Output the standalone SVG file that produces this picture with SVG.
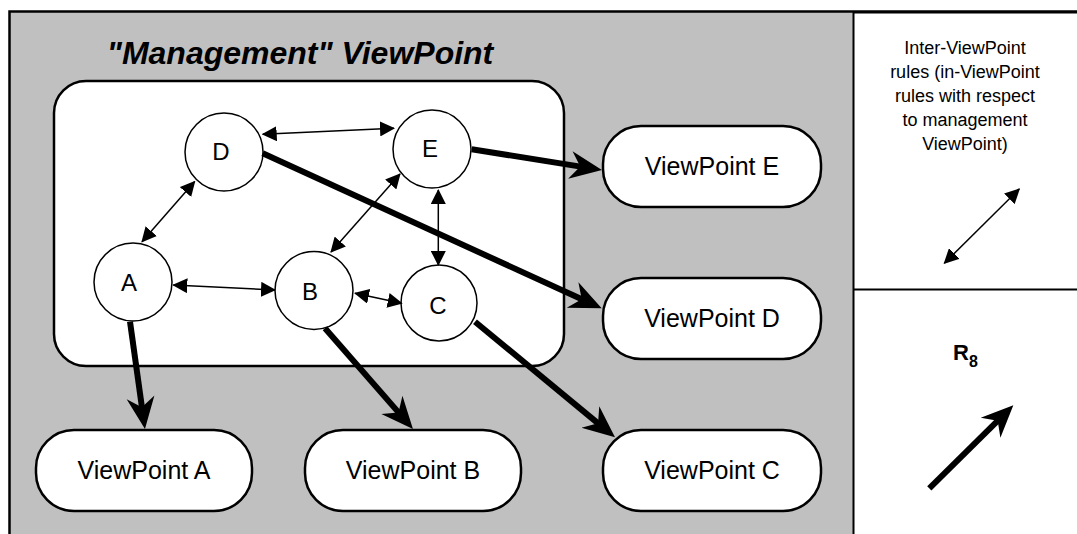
<svg xmlns="http://www.w3.org/2000/svg" width="1077" height="534" viewBox="0 0 1077 534">
<style>
.lbl{font-family:"Liberation Sans",Arial,sans-serif;fill:#000;text-anchor:middle}
.node{fill:#fff;stroke:#000;stroke-width:1.5}
.box{fill:#fff;stroke:#000;stroke-width:2.5}
.thin{stroke:#000;stroke-width:1.5;fill:none;marker-start:url(#hs);marker-end:url(#hs)}
.thick{stroke:#000;stroke-width:6;fill:none;marker-end:url(#hb)}
</style>
<defs>
<marker id="hs" viewBox="0 0 15 15" markerWidth="15" markerHeight="15" refX="14" refY="7.5" orient="auto-start-reverse" markerUnits="userSpaceOnUse">
<path d="M0,0 L15,7.5 L0,15 Z" fill="#000"/>
</marker>
<marker id="hb" viewBox="0 0 34 30" markerWidth="34" markerHeight="30" refX="12" refY="15" orient="auto" markerUnits="userSpaceOnUse">
<path d="M0,1 L32,15 L0,29 L10,15 Z" fill="#000"/>
</marker>
</defs>
<rect x="9.5" y="11.5" width="1080" height="540" fill="#c0c0c0" stroke="#000" stroke-width="2.5"/>
<rect x="853.5" y="12.5" width="230" height="530" fill="#fff" stroke="#000" stroke-width="2"/>
<line x1="853.5" y1="289.5" x2="1077" y2="289.5" stroke="#000" stroke-width="2"/>
<text class="lbl" x="300" y="64" font-size="32" font-weight="bold" font-style="italic">"Management" ViewPoint</text>
<g id="mgmt"><rect x="54" y="81" width="510" height="285" rx="32" class="box"/></g>
<g id="vpE"><rect x="603" y="126" width="218" height="81" rx="38" class="box"/><text class="lbl" x="712" y="175" font-size="25">ViewPoint E</text></g>
<g id="vpD"><rect x="603" y="278" width="218" height="81" rx="38" class="box"/><text class="lbl" x="712" y="327" font-size="25">ViewPoint D</text></g>
<g id="vpC"><rect x="603" y="430" width="218" height="81" rx="38" class="box"/><text class="lbl" x="712" y="479" font-size="25">ViewPoint C</text></g>
<g id="vpA"><rect x="36" y="430" width="216" height="81" rx="38" class="box"/><text class="lbl" x="144" y="479" font-size="25">ViewPoint A</text></g>
<g id="vpB"><rect x="305" y="430" width="216" height="81" rx="38" class="box"/><text class="lbl" x="413" y="479" font-size="25">ViewPoint B</text></g>
<g id="nD"><circle cx="224" cy="152" r="39" class="node"/><text class="lbl" x="221" y="160" font-size="24">D</text></g>
<g id="nE"><circle cx="432" cy="149" r="39" class="node"/><text class="lbl" x="430" y="157" font-size="24">E</text></g>
<g id="nA"><circle cx="133" cy="282" r="39" class="node"/><text class="lbl" x="129" y="291" font-size="24">A</text></g>
<g id="nB"><circle cx="314" cy="290.5" r="39" class="node"/><text class="lbl" x="310" y="300" font-size="24">B</text></g>
<g id="nC"><circle cx="439" cy="303" r="38" class="node" stroke-width="2.5"/><text class="lbl" x="438" y="314" font-size="24">C</text></g>
<g id="connectors">
<line class="thin" x1="262.7" y1="134.3" x2="394" y2="128.3"/>
<line class="thin" x1="194.7" y1="181.5" x2="142" y2="241.7"/>
<line class="thin" x1="400" y1="174" x2="331" y2="252"/>
<line class="thin" x1="438.3" y1="190" x2="438.3" y2="265" stroke-width="2"/>
<line class="thin" x1="173.3" y1="285" x2="275" y2="290"/>
<line class="thin" x1="355" y1="293.3" x2="401.7" y2="303.3"/>
<line class="thick" x1="471.7" y1="149.3" x2="582.2" y2="166.9"/>
<line class="thick" x1="262.7" y1="153.3" x2="583.5" y2="300"/>
<line class="thick" x1="130" y1="321.7" x2="142.2" y2="409.2"/>
<line class="thick" x1="325" y1="328.3" x2="399.8" y2="413.9"/>
<line class="thick" x1="475" y1="321.7" x2="599.6" y2="424.6"/>
</g>
<g id="legend">
<text class="lbl" font-size="18"><tspan x="965" y="54">Inter-ViewPoint</tspan><tspan x="965" y="78">rules (in-ViewPoint</tspan><tspan x="965" y="102">rules with respect</tspan><tspan x="965" y="126">to management</tspan><tspan x="965" y="150">ViewPoint)</tspan></text>
<line class="thin" x1="1019.3" y1="189" x2="944.3" y2="263.3"/>
<text x="953" y="360" font-family="Liberation Sans,Arial,sans-serif" font-weight="bold" font-size="22">R<tspan font-size="16" dy="7">8</tspan></text>
<line class="thick" x1="929.3" y1="488.3" x2="999.1" y2="419.4"/>
</g>
</svg>
